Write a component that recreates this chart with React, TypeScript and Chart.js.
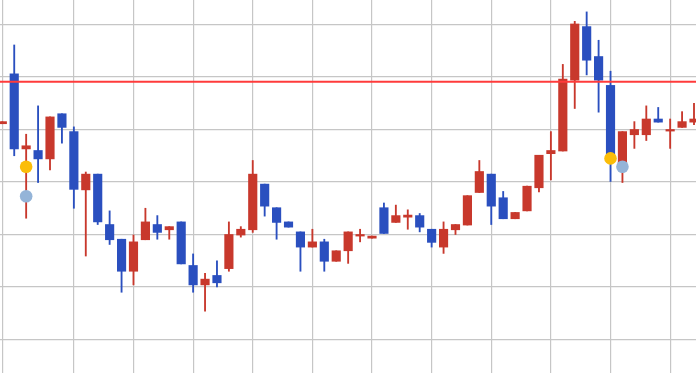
import React, { useEffect, useRef } from "react";
import { Chart, registerables } from "chart.js";

Chart.register(...registerables);

// Candle data (index = trading session)
const opens = [
  511, 606, 463, 460, 444, 530, 496, 385, 415, 319,
  291, 230, 290, 319, 309, 324, 241, 204, 222, 235,
  299, 309, 396, 351, 324, 305, 276, 286, 249, 269,
  297, 293, 351, 323, 333, 336, 310, 276, 309, 318,
  380, 415, 370, 330, 345, 389, 454, 459, 594, 696,
  639, 584, 432, 490, 490, 520, 497, 504, 514,
];
const highs = [
  515, 661, 491, 545, 524, 530, 505, 419, 415, 345,
  291, 299, 350, 336, 315, 324, 263, 226, 250, 324,
  315, 441, 396, 351, 324, 305, 310, 291, 269, 305,
  310, 297, 360, 356, 347, 340, 310, 324, 319, 374,
  441, 415, 382, 342, 392, 451, 496, 624, 706, 724,
  670, 611, 496, 515, 545, 542, 520, 534, 550,
];
const lows = [
  511, 450, 331, 399, 423, 474, 350, 259, 319, 281,
  190, 204, 290, 291, 291, 244, 190, 154, 200, 230,
  295, 304, 335, 291, 314, 230, 276, 230, 249, 245,
  286, 293, 302, 323, 310, 305, 276, 264, 300, 318,
  380, 319, 330, 330, 345, 381, 404, 459, 540, 604,
  533, 401, 399, 464, 479, 514, 464, 504, 509,
];
const closes = [
  515, 463, 469, 444, 524, 504, 386, 415, 324, 290,
  230, 286, 324, 304, 315, 244, 204, 215, 208, 300,
  310, 415, 354, 323, 314, 276, 286, 249, 269, 305,
  300, 297, 302, 336, 337, 314, 285, 310, 319, 374,
  420, 354, 330, 342, 392, 451, 460, 596, 701, 632,
  594, 445, 496, 500, 520, 514, 500, 515, 520,
];

// Horizontal reference level
const resistanceLevel = 591;

// Signal markers
const yellowIdx = [2, 51];
const yellowVals = [429, 445];
const grayIdx = [2, 52];
const grayVals = [373, 429];

// Grid positions
const xGridAt = [0, 6, 11, 16, 21, 26, 31, 36, 41, 46, 51, 56];
const yGridAt = [100, 200, 300, 400, 500, 600, 700];

const UP = "#c8382c";
const DOWN = "#2a4fbf";

export default function App() {
  const ref = useRef<HTMLCanvasElement | null>(null);

  useEffect(() => {
    if (!ref.current) return;
    const colors = opens.map((o, i) => (closes[i] >= o ? UP : DOWN));
    const wickData = opens.map((_, i) => ({ x: i, y: [lows[i], highs[i]] }));
    const bodyData = opens.map((o, i) => ({ x: i, y: [o, closes[i]] }));

    const chart = new Chart(ref.current, {
      type: "bar",
      data: {
        datasets: [
          {
            type: "bar",
            data: wickData as any,
            backgroundColor: colors,
            borderWidth: 0,
            barThickness: 1.2,
            grouped: false,
            order: 4,
          } as any,
          {
            type: "bar",
            data: bodyData as any,
            backgroundColor: colors,
            borderWidth: 0,
            borderSkipped: false,
            barThickness: 8.5,
            grouped: false,
            order: 3,
          } as any,
          {
            type: "line",
            data: [
              { x: -1, y: resistanceLevel },
              { x: 60, y: resistanceLevel },
            ],
            borderColor: "#ff3b3b",
            borderWidth: 1.8,
            pointRadius: 0,
            order: 2,
          } as any,
          {
            type: "scatter",
            data: yellowIdx.map((x, i) => ({ x, y: yellowVals[i] })),
            backgroundColor: "#fbbd08",
            borderWidth: 0,
            pointRadius: 6.3,
            order: 1,
          } as any,
          {
            type: "scatter",
            data: grayIdx.map((x, i) => ({ x, y: grayVals[i] })),
            backgroundColor: "#94b4d8",
            borderWidth: 0,
            pointRadius: 6.3,
            order: 1,
          } as any,
        ],
      },
      options: {
        responsive: false,
        animation: false,
        devicePixelRatio: 1,
        layout: { padding: 0, autoPadding: false },
        plugins: { legend: { display: false }, tooltip: { enabled: false } },
        events: [],
        scales: {
          x: {
            type: "linear",
            min: -0.1929,
            max: 58.1677,
            offset: false,
            border: { display: false },
            grid: { color: "#c6c6c6", lineWidth: 1.2, drawTicks: false, offset: false },
            ticks: { display: false },
            afterBuildTicks: (scale: any) => {
              scale.ticks = xGridAt.map((v) => ({ value: v }));
            },
          },
          y: {
            type: "linear",
            min: 36.19,
            max: 746.67,
            border: { display: false },
            grid: { color: "#c6c6c6", lineWidth: 1.2, drawTicks: false, offset: false },
            ticks: { display: false },
            afterBuildTicks: (scale: any) => {
              scale.ticks = yGridAt.map((v) => ({ value: v }));
            },
          },
        },
      } as any,
    });
    return () => chart.destroy();
  }, []);

  return (
    <div style={{ position: "absolute", left: 0, top: 0, width: 696, height: 373, background: "#fff" }}>
      <canvas ref={ref} width={696} height={373} style={{ display: "block" }} />
    </div>
  );
}
